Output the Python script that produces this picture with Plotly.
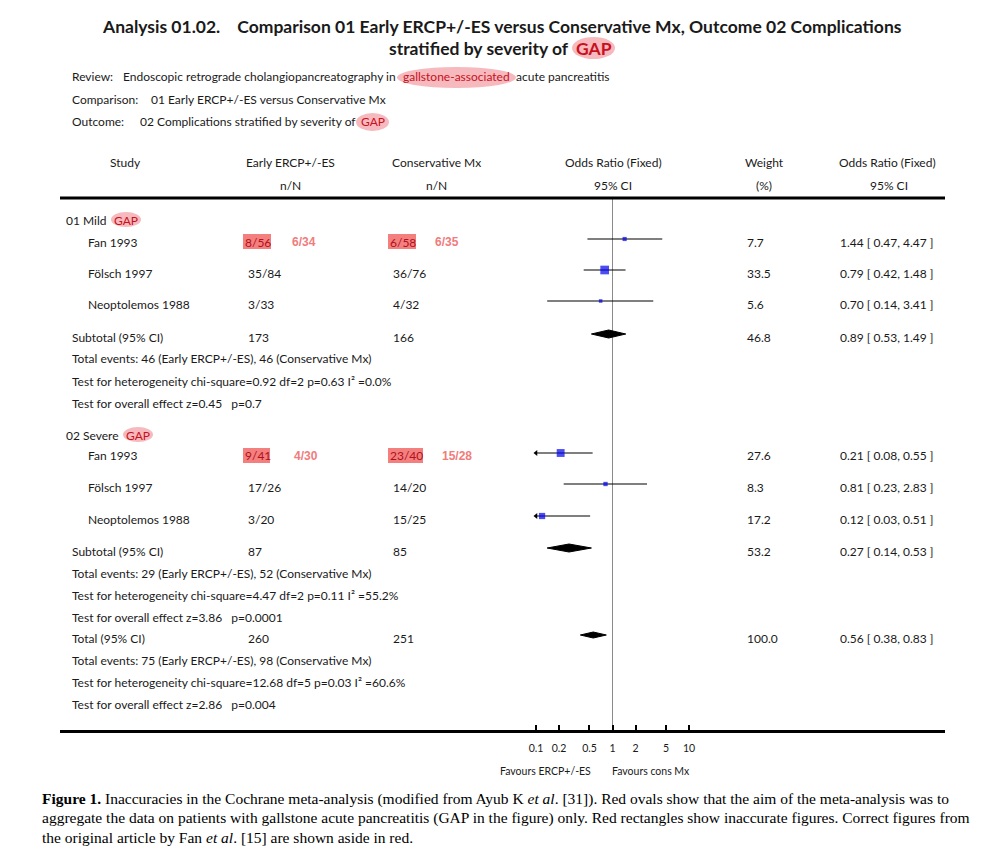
import math
import plotly.graph_objects as go

# ---------------- data ----------------
mild_studies = ["Fan 1993", "Fölsch 1997", "Neoptolemos 1988"]
mild_exp = ["8/56", "35/84", "3/33"]
mild_ctl = ["6/58", "36/76", "4/32"]
mild_weight = [7.7, 33.5, 5.6]
mild_or = [1.44, 0.79, 0.70]
mild_lo = [0.47, 0.42, 0.14]
mild_hi = [4.47, 1.48, 3.41]

severe_studies = ["Fan 1993", "Fölsch 1997", "Neoptolemos 1988"]
severe_exp = ["9/41", "17/26", "3/20"]
severe_ctl = ["23/40", "14/20", "15/25"]
severe_weight = [27.6, 8.3, 17.2]
severe_or = [0.21, 0.81, 0.12]
severe_lo = [0.08, 0.23, 0.03]
severe_hi = [0.55, 2.83, 0.51]

# corrected figures (Fan 1993)
mild_correct = ["6/34", "6/35"]
severe_correct = ["4/30", "15/28"]

sub_labels = ["Subtotal (95% CI)", "Subtotal (95% CI)", "Total (95% CI)"]
sub_exp_n = ["173", "87", "260"]
sub_ctl_n = ["166", "85", "251"]
sub_weight = ["46.8", "53.2", "100.0"]
sub_or = [0.89, 0.27, 0.56]
sub_lo = [0.53, 0.14, 0.38]
sub_hi = [1.49, 0.53, 0.83]

sub_events = [
    "Total events: 46 (Early ERCP+/-ES), 46 (Conservative Mx)",
    "Total events: 29 (Early ERCP+/-ES), 52 (Conservative Mx)",
    "Total events: 75 (Early ERCP+/-ES), 98 (Conservative Mx)",
]
sub_het = [
    "Test for heterogeneity chi-square=0.92 df=2 p=0.63 I² =0.0%",
    "Test for heterogeneity chi-square=4.47 df=2 p=0.11 I² =55.2%",
    "Test for heterogeneity chi-square=12.68 df=5 p=0.03 I² =60.6%",
]
sub_eff = [
    "Test for overall effect z=0.45   p=0.7",
    "Test for overall effect z=3.86   p=0.0001",
    "Test for overall effect z=2.86   p=0.004",
]

tick_vals = [0.1, 0.2, 0.5, 1, 2, 5, 10]
tick_text = ["0.1", "0.2", "0.5", "1", "2", "5", "10"]

# ---------------- layout constants ----------------
W, H = 992, 860
FONT = "Lato"
FS = 12
TXT = "#1a1a1a"
RED = "#c8101e"
OVAL = "#f6b9bd"
RECT = "#f47f7f"
CORR = "#f07c7c"
AX_Y = 730.0
X_L, X_R = 60.0, 945.0
X_ONE, DEC = 612.5, 76.5
CLIP_LO, CLIP_HI = 0.1, 10


def px(x):
    return x / W


def py(y):
    return 1 - y / H


fig = go.Figure()
ann = []
shapes = []


def text(t, x, y, anchor="left", size=FS, color=TXT, family=FONT):
    ann.append(dict(text=t, x=px(x), y=py(y), xref="paper", yref="paper",
                    xanchor=anchor, yanchor="middle", showarrow=False,
                    font=dict(family=family, size=size, color=color)))


def oval(x0, x1, y0, y1):
    shapes.append(dict(type="circle", xref="paper", yref="paper",
                       x0=px(x0), x1=px(x1), y0=py(y1), y1=py(y0),
                       fillcolor=OVAL, line=dict(width=0), layer="below"))


# ---------------- titles ----------------
TS = 17.5
text("<b>Analysis 01.02.    Comparison 01 Early ERCP+/-ES versus Conservative Mx, Outcome 02 Complications</b>",
     502, 27, anchor="center", size=TS)
oval(572, 615, 37, 59)
text("<b>stratified by severity of </b>", 574, 48, anchor="right", size=TS)
text("<b>GAP</b>", 593.5, 48, anchor="center", size=TS, color=RED)

text("Review:", 70, 77)
text("Endoscopic retrograde cholangiopancreatography in", 398, 77, anchor="right")
oval(397, 516, 67, 88)
text("gallstone-associated", 456.5, 77, anchor="center", color=RED)
text("acute pancreatitis", 514, 77)
text("Comparison:", 70, 100)
text("01 Early ERCP+/-ES versus Conservative Mx", 149, 100)
text("Outcome:", 70, 122)
text("02 Complications stratified by severity of", 358, 122, anchor="right")
oval(356, 389, 113, 131)
text("GAP", 372.5, 122, anchor="center", color=RED)

# ---------------- column headers ----------------
text("Study", 125, 163, anchor="center")
text("Early ERCP+/-ES", 290, 163, anchor="center")
text("n/N", 290, 186, anchor="center")
text("Conservative Mx", 436, 163, anchor="center")
text("n/N", 436, 186, anchor="center")
text("Odds Ratio (Fixed)", 613, 163, anchor="center")
text("95% CI", 613, 186, anchor="center")
text("Weight", 764, 163, anchor="center")
text("(%)", 764, 186, anchor="center")
text("Odds Ratio (Fixed)", 887, 163, anchor="center")
text("95% CI", 889, 186, anchor="center")
shapes.append(dict(type="line", xref="paper", yref="paper", x0=px(X_L), x1=px(X_R),
                   y0=py(198), y1=py(198), line=dict(color="black", width=3)))

# ---------------- rows ----------------
groups = [
    dict(head="01 Mild ", gap_x=(111, 141), head_y=220, rows=[242, 273, 304],
         studies=mild_studies, exp=mild_exp, ctl=mild_ctl, w=mild_weight,
         orv=mild_or, lo=mild_lo, hi=mild_hi, corr=mild_correct,
         corr_x=(290, 433), rect_w=(28, 28)),
    dict(head="02 Severe ", gap_x=(123, 153), head_y=435, rows=[456, 487, 519],
         studies=severe_studies, exp=severe_exp, ctl=severe_ctl, w=severe_weight,
         orv=severe_or, lo=severe_lo, hi=severe_hi, corr=severe_correct,
         corr_x=(292, 440), rect_w=(27, 35)),
]

ci_x, ci_y = [], []
arrow_x, arrow_y = [], []
sq_x, sq_y, sq_s = [], [], []

for g in groups:
    text(g["head"], g["gap_x"][0] + 1, g["head_y"], anchor="right")
    oval(g["gap_x"][0], g["gap_x"][1], g["head_y"] - 8, g["head_y"] + 7)
    text("GAP", (g["gap_x"][0] + g["gap_x"][1]) / 2, g["head_y"], anchor="center", color=RED)
    for i, r in enumerate(g["rows"]):
        text(g["studies"][i], 86, r)
        if i == 0:
            # inaccurate figures highlighted + corrected figures aside
            shapes.append(dict(type="rect", xref="paper", yref="paper",
                               x0=px(243), x1=px(243 + g["rect_w"][0]),
                               y0=py(r + 7), y1=py(r - 8), fillcolor=RECT,
                               line=dict(width=0), layer="below"))
            shapes.append(dict(type="rect", xref="paper", yref="paper",
                               x0=px(388), x1=px(388 + g["rect_w"][1]),
                               y0=py(r + 7), y1=py(r - 8), fillcolor=RECT,
                               line=dict(width=0), layer="below"))
            text(g["exp"][i], 243, r, color="#b0101a")
            text(g["ctl"][i], 388, r, color="#b0101a")
            text("<b>" + g["corr"][0] + "</b>", g["corr_x"][0], r, color=CORR,
                 family="Liberation Sans")
            text("<b>" + g["corr"][1] + "</b>", g["corr_x"][1], r, color=CORR,
                 family="Liberation Sans")
        else:
            text(g["exp"][i], 246, r)
            text(g["ctl"][i], 391, r)
        text(f"{g['w'][i]:.1f}", 745, r)
        text(f"{g['orv'][i]:.2f} [ {g['lo'][i]:.2f}, {g['hi'][i]:.2f} ]", 838, r)
        ym = r - 3
        lo_c = max(g["lo"][i], CLIP_LO)
        hi_c = min(g["hi"][i], CLIP_HI)
        ci_x += [lo_c, hi_c, None]
        ci_y += [ym, ym, None]
        if g["lo"][i] < CLIP_LO:
            arrow_x.append(CLIP_LO)
            arrow_y.append(ym)
        sq_x.append(g["orv"][i])
        sq_y.append(ym)
        sq_s.append(1.5 * math.sqrt(g["w"][i]))

sub_rows = [337, 551, 638]
for k, r in enumerate(sub_rows):
    text(sub_labels[k], 70, r)
    text(sub_exp_n[k], 246, r)
    text(sub_ctl_n[k], 391, r)
    text(sub_weight[k], 745, r)
    text(f"{sub_or[k]:.2f} [ {sub_lo[k]:.2f}, {sub_hi[k]:.2f} ]", 838, r)
    text(sub_events[k], 70, r + 22)
    text(sub_het[k], 70, r + 44)
    text(sub_eff[k], 70, r + 66)

# vertical line of no effect
fig.add_trace(go.Scatter(x=[1, 1], y=[198, AX_Y], mode="lines",
                         line=dict(color="#8a8a8a", width=1), hoverinfo="skip"))
# confidence intervals
fig.add_trace(go.Scatter(x=ci_x, y=ci_y, mode="lines",
                         line=dict(color="black", width=1.2), hoverinfo="skip"))
fig.add_trace(go.Scatter(x=arrow_x, y=arrow_y, mode="markers",
                         marker=dict(symbol="triangle-left", size=5, color="black"),
                         hoverinfo="skip"))
# study squares
fig.add_trace(go.Scatter(x=sq_x, y=sq_y, mode="markers",
                         marker=dict(symbol="square", size=sq_s, color="#0000ee",
                                     line=dict(width=0)),
                         hoverinfo="skip"))
# diamonds
dia_h = [4, 4, 3]
for k, r in enumerate(sub_rows):
    ym = r - 3
    fig.add_trace(go.Scatter(
        x=[sub_lo[k], sub_or[k], sub_hi[k], sub_or[k], sub_lo[k]],
        y=[ym, ym - dia_h[k], ym, ym + dia_h[k], ym],
        mode="lines", fill="toself", fillcolor="black",
        line=dict(color="black", width=1), hoverinfo="skip"))

# favours labels
text("Favours ERCP+/-ES", 545, 771, anchor="center", size=10.5)
text("Favours cons Mx", 651, 771, anchor="center", size=10.5)

# caption
CAP = "Liberation Serif"
CS = 15.5
text("<b>Figure 1.</b> Inaccuracies in the Cochrane meta-analysis (modified from Ayub K <i>et al</i>. [31]). "
     "Red ovals show that the aim of the meta-analysis was to", 40, 799, size=CS, family=CAP, color="black")
text("aggregate the data on patients with gallstone acute pancreatitis (GAP in the figure) only. "
     "Red rectangles show inaccurate figures. Correct figures from", 40, 818, size=CS, family=CAP, color="black")
text("the original article by Fan <i>et al</i>. [15] are shown aside in red.", 40, 837, size=CS,
     family=CAP, color="black")

x_lo = -(X_ONE - X_L) / DEC
x_hi = (X_R - X_ONE) / DEC

fig.update_layout(
    width=W, height=H, margin=dict(l=0, r=0, t=0, b=0),
    paper_bgcolor="white", plot_bgcolor="rgba(0,0,0,0)",
    showlegend=False, annotations=ann, shapes=shapes,
    font=dict(family=FONT, size=FS, color=TXT),
    xaxis=dict(type="log", range=[x_lo, x_hi], domain=[px(X_L), px(X_R)],
               showgrid=False, zeroline=False, showline=True, linecolor="black",
               linewidth=3, ticks="inside", ticklen=5, tickwidth=1.5, tickcolor="black",
               tickvals=tick_vals, ticktext=tick_text,
               tickfont=dict(family=FONT, size=10.5, color=TXT), ticklabelstandoff=6,
               fixedrange=True),
    yaxis=dict(range=[AX_Y, 0], domain=[1 - AX_Y / H, 1], visible=False,
               fixedrange=True),
)

fig.write_html("out.html", config={"displayModeBar": False},
               post_script="document.body.style.margin='0';document.body.style.overflow='hidden';")
